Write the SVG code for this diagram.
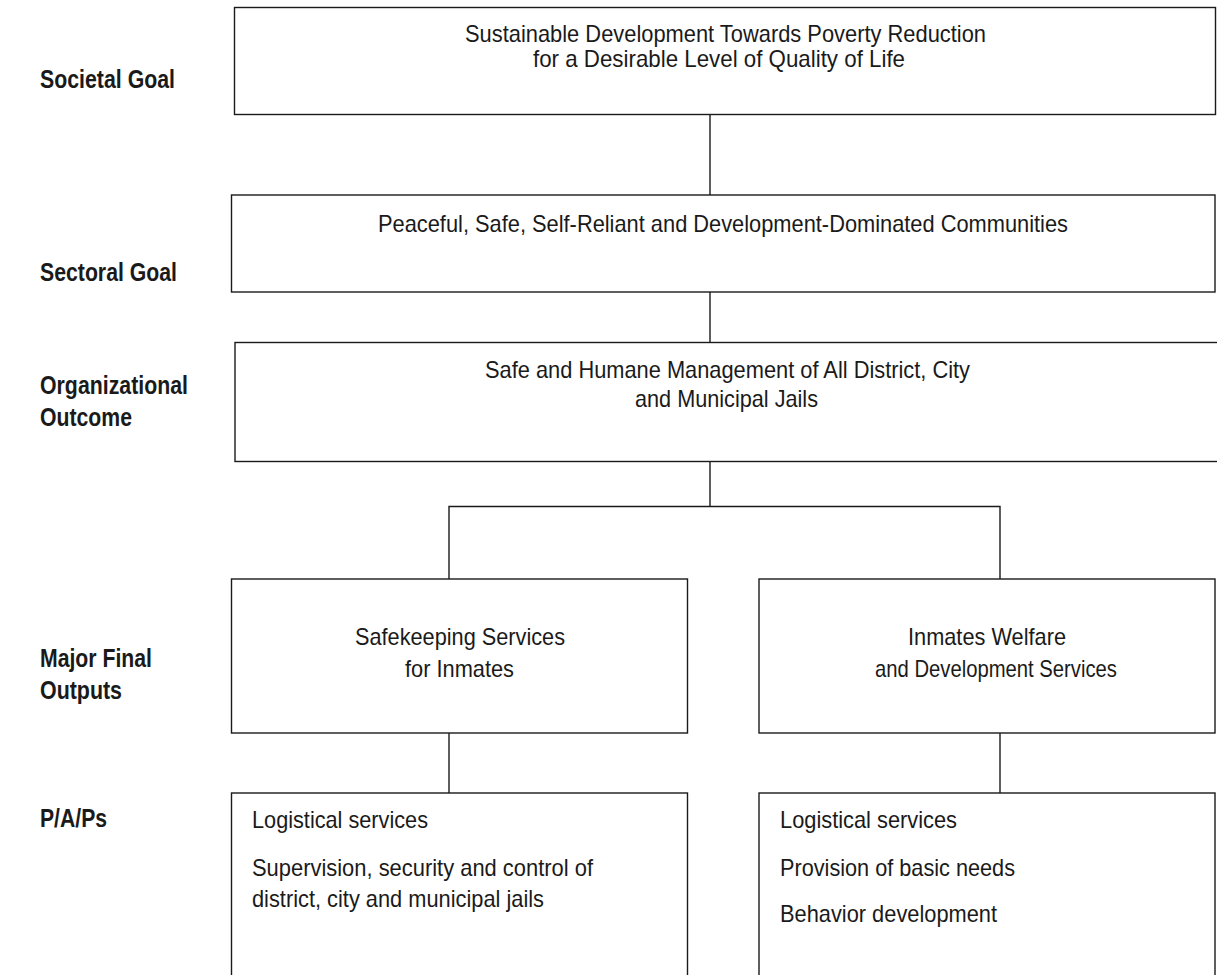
<svg xmlns="http://www.w3.org/2000/svg" width="1217" height="975" viewBox="0 0 1217 975">
<style>
.box{fill:#fff;stroke:#1a1a1a;stroke-width:1.4}
.con{fill:none;stroke:#1a1a1a;stroke-width:1.4}
.t{font-family:"Liberation Sans",Arial,sans-serif;font-size:24px;fill:#1a1a1a}
.lbl{font-family:"Liberation Sans",Arial,sans-serif;font-size:26px;font-weight:bold;fill:#1a1a1a}
</style>
<rect width="1217" height="975" fill="#fff"/>
<g id="labels">
<text class="lbl" x="40" y="88" textLength="135" lengthAdjust="spacingAndGlyphs">Societal Goal</text>
<text class="lbl" x="40" y="281" textLength="137" lengthAdjust="spacingAndGlyphs">Sectoral Goal</text>
<text class="lbl" x="40" y="394" textLength="148" lengthAdjust="spacingAndGlyphs">Organizational</text>
<text class="lbl" x="40" y="426" textLength="92" lengthAdjust="spacingAndGlyphs">Outcome</text>
<text class="lbl" x="40" y="667" textLength="112" lengthAdjust="spacingAndGlyphs">Major Final</text>
<text class="lbl" x="40" y="699" textLength="82" lengthAdjust="spacingAndGlyphs">Outputs</text>
<text class="lbl" x="40" y="827" textLength="67" lengthAdjust="spacingAndGlyphs">P/A/Ps</text>
</g>
<g id="connectors">
<line class="con" x1="710" y1="114.5" x2="710" y2="195"/>
<line class="con" x1="710" y1="292" x2="710" y2="342.5"/>
<polyline class="con" points="710,461.5 710,506.5"/>
<polyline class="con" points="449,579 449,506.5 1000,506.5 1000,579"/>
<line class="con" x1="449" y1="733" x2="449" y2="793"/>
<line class="con" x1="1000" y1="733" x2="1000" y2="793"/>
</g>
<g id="societal-goal">
<rect class="box" x="234.5" y="7.5" width="981" height="107"/>
<text class="t" x="465" y="42" textLength="521" lengthAdjust="spacingAndGlyphs">Sustainable Development Towards Poverty Reduction</text>
<text class="t" x="533" y="67" textLength="372" lengthAdjust="spacingAndGlyphs">for a Desirable Level of Quality of Life</text>
</g>
<g id="sectoral-goal">
<rect class="box" x="231.5" y="195" width="983.5" height="97"/>
<text class="t" x="378" y="232" textLength="690" lengthAdjust="spacingAndGlyphs">Peaceful, Safe, Self-Reliant and Development-Dominated Communities</text>
</g>
<g id="organizational-outcome">
<rect class="box" x="235" y="342.5" width="990" height="119"/>
<text class="t" x="485" y="378" textLength="485" lengthAdjust="spacingAndGlyphs">Safe and Humane Management of All District, City</text>
<text class="t" x="635" y="407" textLength="183" lengthAdjust="spacingAndGlyphs">and Municipal Jails</text>
</g>
<g id="mfo-safekeeping">
<rect class="box" x="231.5" y="579" width="456" height="154"/>
<text class="t" x="355" y="645" textLength="210" lengthAdjust="spacingAndGlyphs">Safekeeping Services</text>
<text class="t" x="405" y="677" textLength="109" lengthAdjust="spacingAndGlyphs">for Inmates</text>
</g>
<g id="mfo-welfare">
<rect class="box" x="759" y="579" width="456" height="154"/>
<text class="t" x="908" y="645" textLength="158" lengthAdjust="spacingAndGlyphs">Inmates Welfare</text>
<text class="t" x="875" y="677" textLength="242" lengthAdjust="spacingAndGlyphs">and Development Services</text>
</g>
<g id="pap-safekeeping">
<rect class="box" x="231.5" y="793" width="456" height="200"/>
<text class="t" x="252" y="828" textLength="176" lengthAdjust="spacingAndGlyphs">Logistical services</text>
<text class="t" x="252" y="876" textLength="341" lengthAdjust="spacingAndGlyphs">Supervision, security and control of</text>
<text class="t" x="252" y="907" textLength="292" lengthAdjust="spacingAndGlyphs">district, city and municipal jails</text>
</g>
<g id="pap-welfare">
<rect class="box" x="759" y="793" width="456" height="200"/>
<text class="t" x="780" y="828" textLength="177" lengthAdjust="spacingAndGlyphs">Logistical services</text>
<text class="t" x="780" y="876" textLength="235" lengthAdjust="spacingAndGlyphs">Provision of basic needs</text>
<text class="t" x="780" y="922" textLength="217" lengthAdjust="spacingAndGlyphs">Behavior development</text>
</g>
</svg>
